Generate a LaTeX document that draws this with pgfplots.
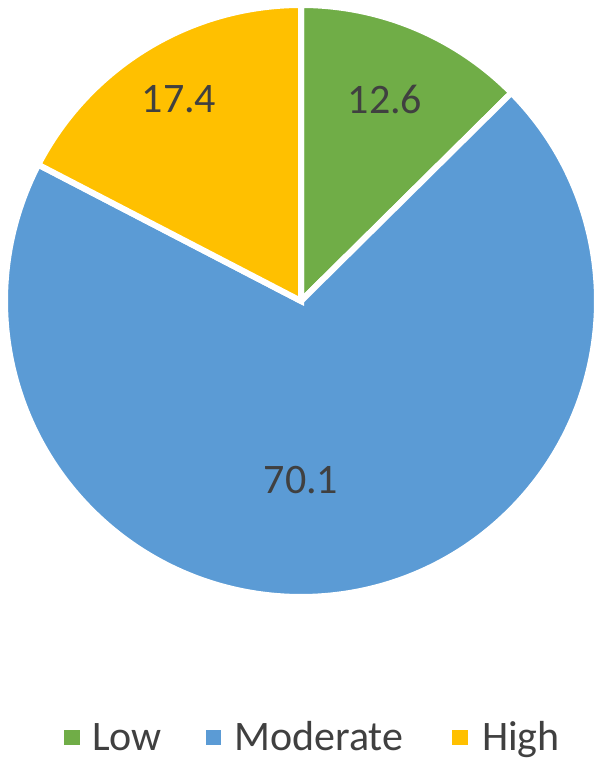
\documentclass[border=0pt]{standalone}
\usepackage{pgfplots}
\usepackage{pgfplotstable}
\usepackage{fontspec}
\pgfplotsset{compat=1.18}
\setmainfont{Carlito}

\definecolor{cLow}{HTML}{70AD47}
\definecolor{cModerate}{HTML}{5B9BD5}
\definecolor{cHigh}{HTML}{FFC000}
\definecolor{txt}{HTML}{404040}

% share (%) of each class
\pgfplotstableread{
label     value
Low       12.6
Moderate  70.1
High      17.4
}\piedata

% slice angles from the table, clockwise from the top
\pgfplotstablegetelem{0}{value}\of\piedata \let\vA\pgfplotsretval
\pgfplotstablegetelem{1}{value}\of\piedata \let\vB\pgfplotsretval
\pgfplotstablegetelem{2}{value}\of\piedata \let\vC\pgfplotsretval
\pgfmathsetmacro{\tot}{\vA+\vB+\vC}
\pgfmathsetmacro{\aA}{90}
\pgfmathsetmacro{\aB}{\aA-360*(\vA/\tot)}
\pgfmathsetmacro{\aC}{\aB-360*(\vB/\tot)}
\pgfmathsetmacro{\aD}{\aC-360*(\vC/\tot)}
\def\R{296pt}
\newcommand{\lbl}[1]{\pgfmathprintnumber[fixed,precision=1,fixed zerofill,assume math mode=true]{#1}}

\begin{document}
\begin{tikzpicture}
\begin{axis}[
    width=603pt, height=762pt,
    scale only axis,
    xmin=0, xmax=603, ymin=0, ymax=762,
    hide axis, clip=false,
]
\begin{scope}[draw=white, line width=6pt, line join=miter]
  \filldraw[fill=cLow] (axis cs:301,461) -- ++(\aA:\R) arc[start angle=\aA, end angle=\aB, radius=\R] -- cycle;
  \filldraw[fill=cModerate] (axis cs:301,461) -- ++(\aB:\R) arc[start angle=\aB, end angle=\aC, radius=\R] -- cycle;
  \filldraw[fill=cHigh] (axis cs:301,461) -- ++(\aC:\R) arc[start angle=\aC, end angle=\aD, radius=\R] -- cycle;
\end{scope}
% data labels
\begin{scope}[every node/.style={text=txt, font=\fontsize{42}{50}\selectfont, inner sep=0pt}]
  \node at (axis cs:385,663) {\lbl{\vA}};
  \node at (axis cs:301,282) {\lbl{\vB}};
  \node at (axis cs:179,663) {\lbl{\vC}};
\end{scope}
% legend
\fill[cLow] (axis cs:64,17) rectangle (axis cs:80,32);
\fill[cModerate] (axis cs:206,17) rectangle (axis cs:221,32);
\fill[cHigh] (axis cs:452,17) rectangle (axis cs:468,32);
\begin{scope}[every node/.style={text=txt, font=\fontsize{42}{50}\selectfont, inner sep=0pt, anchor=base west}]
  \node at (axis cs:92,12) {Low};
  \node at (axis cs:234,12) {Moderate};
  \node at (axis cs:482,12) {High};
\end{scope}
\end{axis}
\pgfresetboundingbox
\path (current axis.south west) rectangle (current axis.north east);
\end{tikzpicture}
\end{document}
